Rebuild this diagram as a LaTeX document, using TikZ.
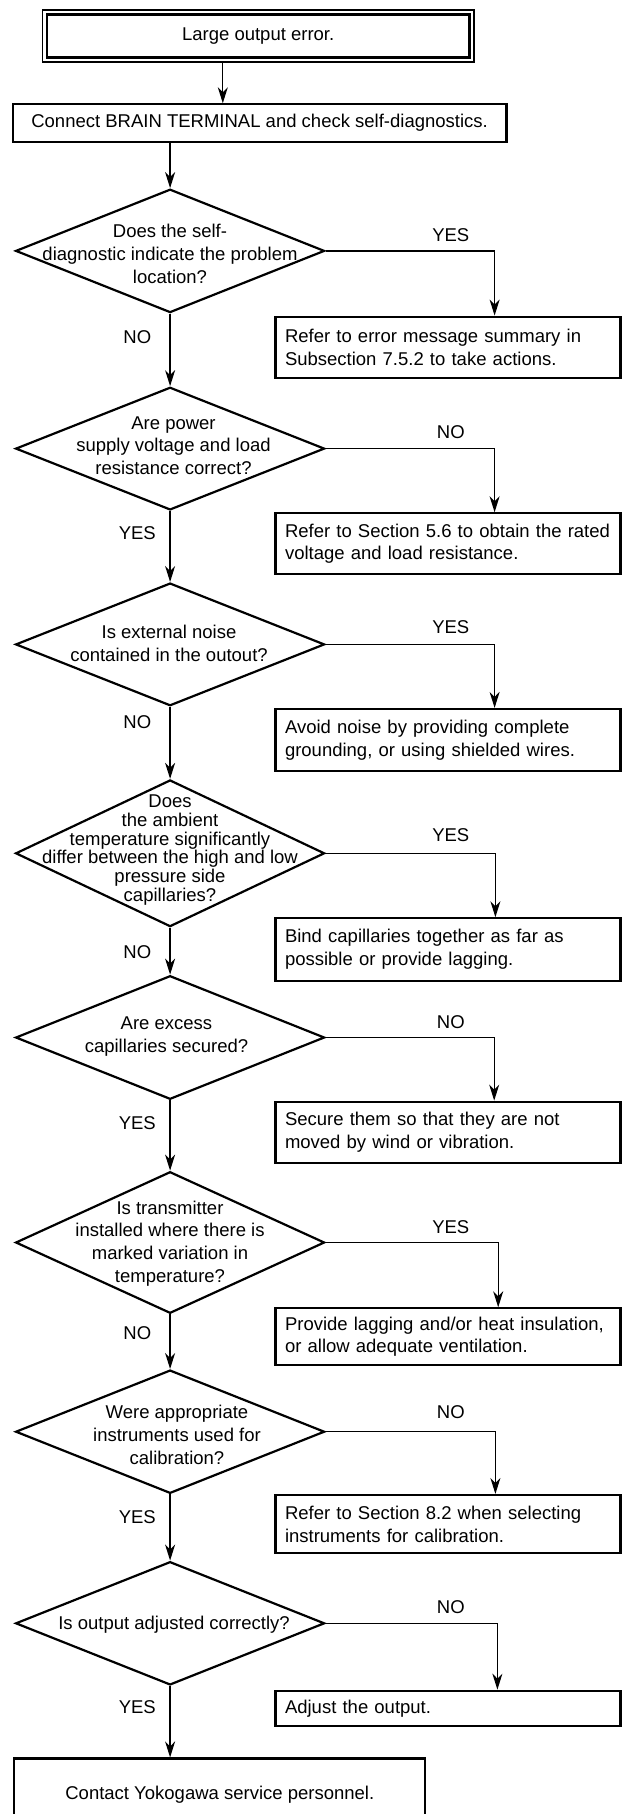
\documentclass[tikz,border=0pt]{standalone}
\usepackage{fontspec}
\setmainfont{Liberation Sans}
\usetikzlibrary{arrows.meta,shapes.geometric}
\begin{document}
\begin{tikzpicture}[x=1pt,y=-1pt,
  fnt/.style={font=\fontsize{18.5}{22.7}\selectfont},
  txt/.style={fnt, inner sep=0pt, align=center},
  dia/.style={draw, diamond, line width=2.2pt, inner sep=0pt, minimum width=309pt},
  box/.style={draw, rectangle, line width=2.2pt, inner sep=0pt, fnt, align=center},
  rbox/.style={draw, rectangle, line width=2.2pt, text width=326pt, inner xsep=9.5pt, inner ysep=0pt, align=left, fnt},
  conn/.style={line width=1.3pt},
  arr/.style={conn, -{Stealth[length=16pt,width=10pt,inset=5pt]}},
  lab/.style={fnt, inner sep=0pt}
]
\useasboundingbox (0,0) rectangle (622,1814);

% top double box
\node[draw, rectangle, line width=1.4pt, outer sep=0pt, minimum width=431.5pt, minimum height=51.8pt, fnt] (top) at (258.2,36.1) {Large output error.};
\draw[line width=2.6pt] ([xshift=4.7pt,yshift=-4.5pt]top.north west) rectangle ([xshift=-4.7pt,yshift=4.5pt]top.south east);

\node[box, minimum width=493.9pt, minimum height=37.7pt] (b2) at (259.6,123.2) {Connect BRAIN TERMINAL and check self-diagnostics.};

% diamonds
\node[dia, minimum height=123.4pt] (d1) at (170.1,250.9) {};
\node[dia, minimum height=122.7pt] (d2) at (170.1,448.6) {};
\node[dia, minimum height=122.7pt] (d3) at (170.1,644.4) {};
\node[dia, minimum height=146.7pt] (d4) at (170.1,853.3) {};
\node[dia, minimum height=123.6pt] (d5) at (170.1,1037.5) {};
\node[dia, minimum height=141.6pt] (d6) at (170.1,1242.5) {};
\node[dia, minimum height=123.3pt] (d7) at (170.1,1431.7) {};
\node[dia, minimum height=123.3pt] (d8) at (170.1,1623.3) {};

\node[txt] (q1) at (170,254) {Does the self-\\diagnostic indicate the problem\\location?};
\node[txt] (q2) at (173.5,445.5) {Are power\\supply voltage and load\\resistance correct?};
\node[txt] (q3) at (169,643.5) {Is external noise\\contained in the outout?};
\node[txt, font=\fontsize{18.5}{18.8}\selectfont] (q4) at (170,850) {Does\\the ambient\\temperature significantly\\differ between the high and low\\pressure side\\capillaries?};
\node[txt] (q5) at (166.5,1036.5) {Are excess\\capillaries secured?};
\node[txt] (q6) at (170,1243.5) {Is transmitter\\installed where there is\\marked variation in\\temperature?};
\node[txt] (q7) at (177,1435) {Were appropriate\\instruments used for\\calibration?};
\node[txt] (q8) at (174,1624.5) {Is output adjusted correctly?};

% right boxes
\node[rbox, minimum height=61pt] (r1) at (448,347.2) {Refer to error message summary in\\Subsection 7.5.2 to take actions.};
\node[rbox, minimum height=60.7pt] (r2) at (448,543.7) {Refer to Section 5.6 to obtain the rated\\voltage and load resistance.};
\node[rbox, minimum height=62pt] (r3) at (448,740) {Avoid noise by providing complete\\grounding, or using shielded wires.};
\node[rbox, minimum height=62.4pt] (r4) at (448,949.5) {Bind capillaries together as far as\\possible or provide lagging.};
\node[rbox, minimum height=61.6pt] (r5) at (448,1132.5) {Secure them so that they are not\\moved by wind or vibration.};
\node[rbox, minimum height=56.7pt] (r6) at (448,1336.7) {Provide lagging and/or heat insulation,\\or allow adequate ventilation.};
\node[rbox, minimum height=58.3pt] (r7) at (448,1524.2) {Refer to Section 8.2 when selecting\\instruments for calibration.};
\node[rbox, minimum height=35.3pt] (r8) at (448,1708.4) {Adjust the output.};

% final box
\node[box, minimum width=411pt, minimum height=73pt] (fin) at (219.8,1795) {Contact Yokogawa service personnel.};

% labels left
\node[lab] (l1) at (137.3,336.7) {NO};
\node[lab] (l2) at (137.3,533.3) {YES};
\node[lab] (l3) at (137.3,721.7) {NO};
\node[lab] (l4) at (137.3,952.3) {NO};
\node[lab] (l5) at (137.3,1122.7) {YES};
\node[lab] (l6) at (137.3,1333.3) {NO};
\node[lab] (l7) at (137.3,1516.7) {YES};
\node[lab] (l8) at (137.3,1707.3) {YES};
% labels right
\node[lab] (m1) at (450.8,235) {YES};
\node[lab] (m2) at (450.8,432.3) {NO};
\node[lab] (m3) at (450.8,626.7) {YES};
\node[lab] (m4) at (450.8,835) {YES};
\node[lab] (m5) at (450.8,1021.7) {NO};
\node[lab] (m6) at (450.8,1226.7) {YES};
\node[lab] (m7) at (450.8,1412.3) {NO};
\node[lab] (m8) at (450.8,1607.3) {NO};

% connectors
\coordinate (ax) at (222.8,0);
\draw[arr] (top.south -| ax) -- (b2.north -| ax);
\draw[arr] (b2.south -| d1.north) -- (d1.north);
\draw[arr] (d1.south) -- (d2.north);
\draw[arr] (d2.south) -- (d3.north);
\draw[arr] (d3.south) -- (d4.north);
\draw[arr] (d4.south) -- (d5.north);
\draw[arr] (d5.south) -- (d6.north);
\draw[arr] (d6.south) -- (d7.north);
\draw[arr] (d7.south) -- (d8.north);
\draw[arr] (d8.south) -- (fin.north -| d8.south);

\coordinate (x1) at (494.6,0);
\coordinate (x2) at (494.6,0);
\coordinate (x3) at (494.6,0);
\coordinate (x4) at (495.4,0);
\coordinate (x5) at (494.2,0);
\coordinate (x6) at (498.2,0);
\coordinate (x7) at (495.4,0);
\coordinate (x8) at (497.4,0);
\draw[arr] (d1.east) -| (r1.north -| x1);
\draw[arr] (d2.east) -| (r2.north -| x2);
\draw[arr] (d3.east) -| (r3.north -| x3);
\draw[arr] (d4.east) -| (r4.north -| x4);
\draw[arr] (d5.east) -| (r5.north -| x5);
\draw[arr] (d6.east) -| (r6.north -| x6);
\draw[arr] (d7.east) -| (r7.north -| x7);
\draw[arr] (d8.east) -| (r8.north -| x8);
\end{tikzpicture}
\end{document}
